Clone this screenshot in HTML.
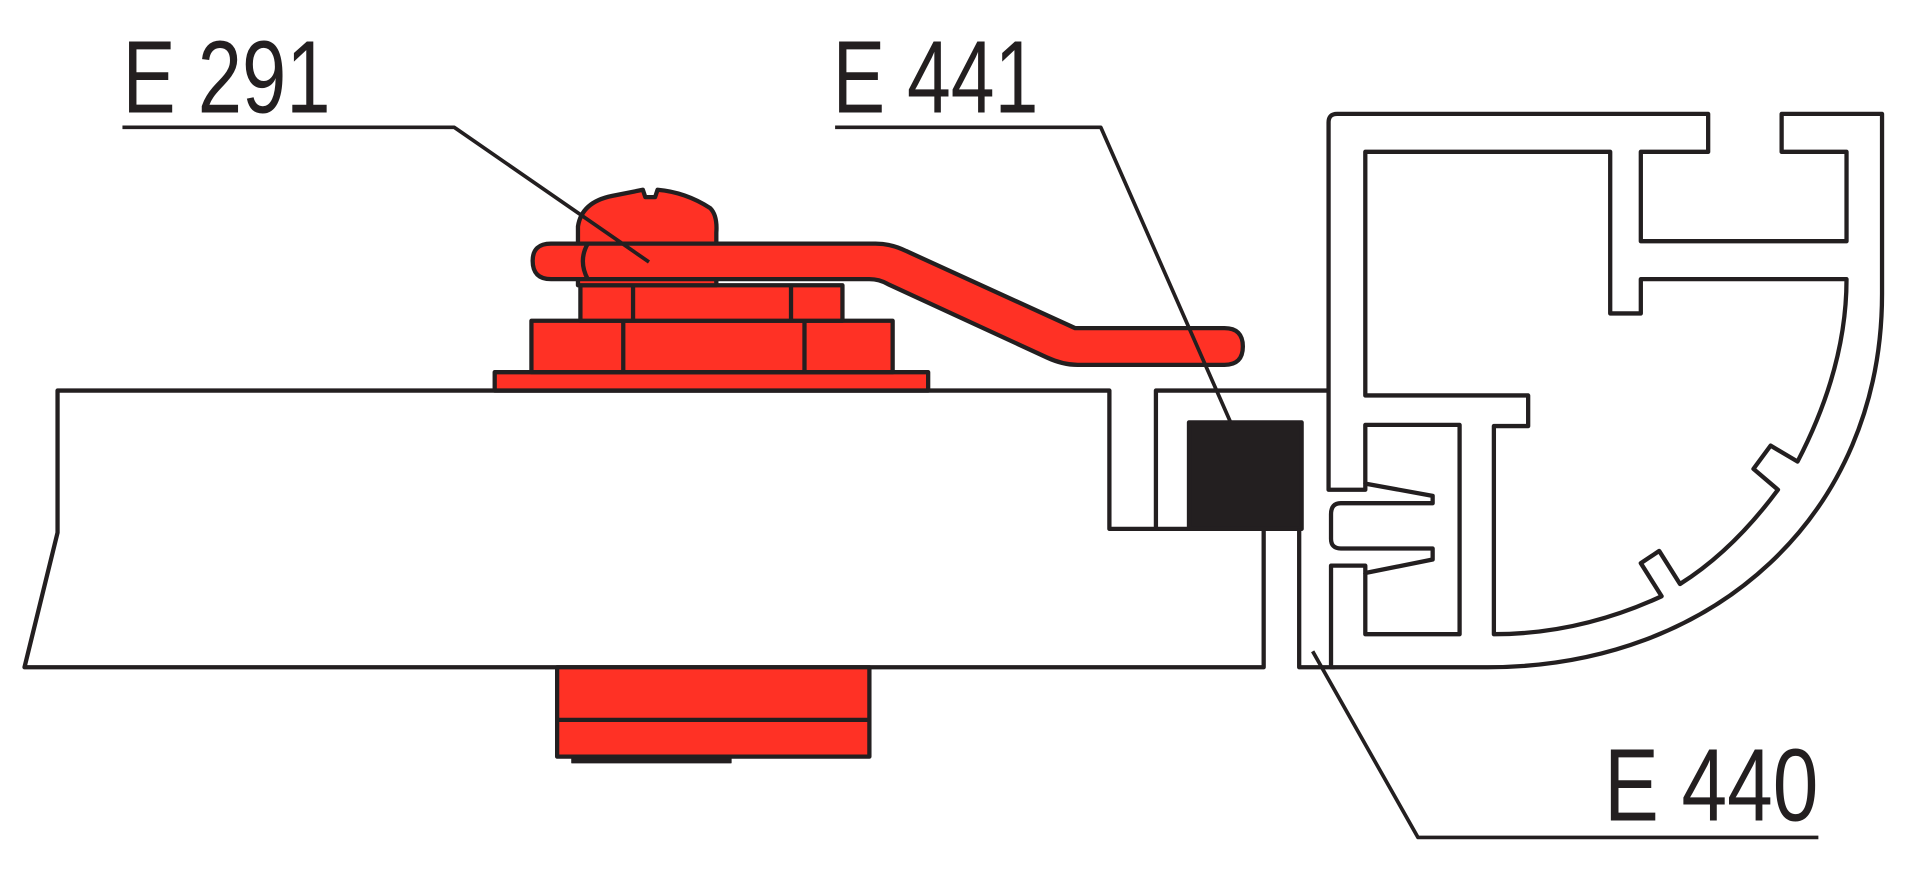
<!DOCTYPE html>
<html><head><meta charset="utf-8"><style>
html,body{margin:0;padding:0;background:#fff;width:1920px;height:876px;overflow:hidden}
svg{display:block}
text{font-family:"Liberation Sans",sans-serif;fill:#231f20}
</style></head><body>
<svg width="1920" height="876" viewBox="0 0 1568 715.5" preserveAspectRatio="none" xmlns="http://www.w3.org/2000/svg">
<g stroke="#231f20" stroke-width="3.5" stroke-linejoin="round" fill="none">
<path d="M47,319 H906 V432 H1032 V545 H20 L47,435 Z" fill="#fff"/>
<path d="M944,432 V319 H1085"/>
<rect x="971" y="345" width="92" height="87" fill="#231f20"/>
<path d="M1061,432 V545 H1090"/>
<rect x="455" y="545" width="255" height="73" fill="#ff3125"/>
<line x1="455" y1="588" x2="710" y2="588"/>
<rect x="467" y="618" width="130" height="5" fill="#231f20" stroke-width="1"/>
<rect x="404" y="304" width="354" height="15" fill="#ff3125"/>
<rect x="434" y="262" width="295" height="42" fill="#ff3125"/>
<line x1="509" y1="262" x2="509" y2="304"/><line x1="657" y1="262" x2="657" y2="304"/>
<rect x="474" y="233" width="214" height="29" fill="#ff3125"/>
<line x1="517" y1="233" x2="517" y2="262"/><line x1="646" y1="233" x2="646" y2="262"/>
<path d="M472,233 V185 Q475,165 500,160 L525,155 L527,161 L535,161 L537,155 Q560,157 580,170 Q586,176 585,190 V233 Z" fill="#ff3125"/>
<path d="M450,199 H715 Q728,199 740,205 L878,268 H1000 Q1015,268 1015,283 Q1015,298 1000,298 H880 Q868,298 855,292 L725,232 Q718,228 710,228 H450 Q435,228 435,213 Q435,199 450,199 Z" fill="#ff3125"/>
<path d="M480,199 Q472,213 480,228"/>
<path d="M1085,400 V100 Q1085,93 1092,93 H1395 V124 H1340 V197 H1508 V124 H1455 V93 H1537 V240 C1537,420 1400,545 1215,545 H1087 V462 H1115 V468 L1170,457 V448 H1095 Q1087,448 1087,440 V420 Q1087,411 1095,411 H1170 V405 L1115,395 V400 Z" fill="#fff"/>
<path d="M1115,124 H1315 V256 H1340 V228 H1508 Q1508,300 1468,377 L1446,364 L1432,383 L1452,400 Q1415,450 1372,477 L1355,450 L1340,460 L1357,487 Q1290,518 1220,518 V348 H1248 V323 H1115 Z"/>
<path d="M1115,395 V347 H1192 V518 H1115 V468"/>
<path d="M100,104 H371 L530,214" stroke-width="3"/>
<path d="M682,104 H899 L1005,345" stroke-width="3"/>
<path d="M1485,684 H1158 L1072,532" stroke-width="3"/>
</g>
<text x="100" y="92" font-size="84" textLength="170" lengthAdjust="spacingAndGlyphs">E 291</text>
<text x="680" y="92" font-size="84" textLength="168" lengthAdjust="spacingAndGlyphs">E 441</text>
<text x="1310" y="670" font-size="84" textLength="175" lengthAdjust="spacingAndGlyphs">E 440</text>
</svg>
</body></html>
